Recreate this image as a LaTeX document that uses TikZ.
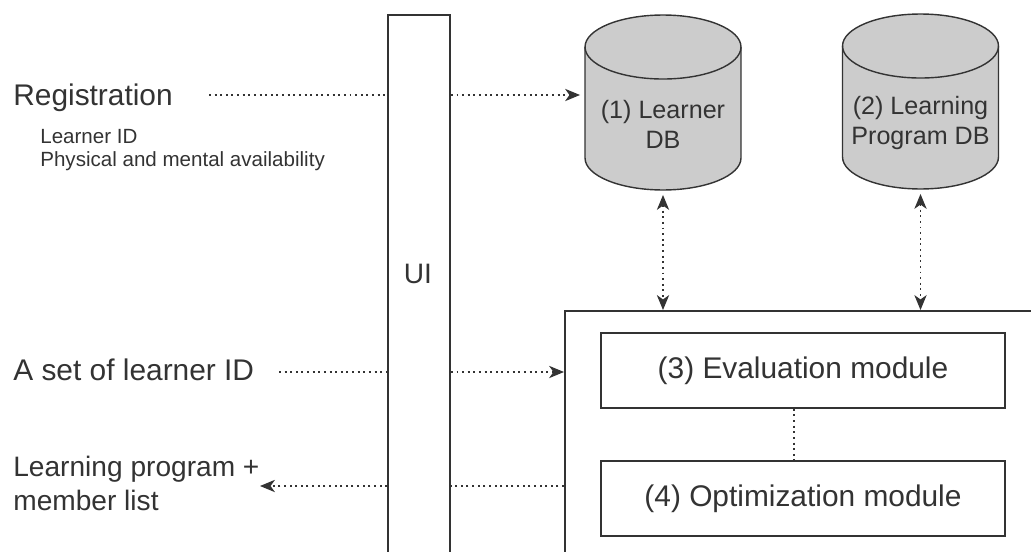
\documentclass[tikz,border=0pt]{standalone}
\usepackage{fontspec}
\setmainfont{Liberation Sans}
\usetikzlibrary{arrows.meta}
\definecolor{ink}{HTML}{333333}
\definecolor{dbfill}{HTML}{CCCCCC}

\begin{document}
\begin{tikzpicture}[x=0.02cm,y=-0.02cm,
  >={Stealth[length=8.5pt,width=7pt,inset=2.5pt]},
  every node/.style={text=ink},
  block/.style={draw=ink,line width=1pt,minimum width=8.08cm,minimum height=1.5cm,font=\fontsize{17}{20}\selectfont},
  db/.style={inner sep=0pt,outer sep=0pt,minimum width=3.12cm,minimum height=3.5cm},
  dbtext/.style={align=center,font=\fontsize{14.3}{17}\selectfont},
  txt/.style={anchor=base west,inner sep=0pt,align=left,font=\fontsize{17}{20}\selectfont},
  flow/.style={draw=ink,line width=0.7pt,dash pattern=on 1.1pt off 2.1pt}]

  \useasboundingbox (0,0) rectangle (1031,551);
  \clip (0,0) rectangle (1031,551);

  % user interface column
  \node[draw=ink,line width=1pt,minimum width=1.24cm,minimum height=12cm,anchor=north] (ui) at (419,14) {};
  \node[font=\fontsize{16}{19}\selectfont] (uitext) at (418,274) {UI};

  % core system
  \node[draw=ink,line width=1.2pt,minimum width=10cm,minimum height=6cm,anchor=north west] (core) at (564,310) {};
  \node[block] (eval) at (803,370.5) {(3) Evaluation module};
  \node[block] (opt) at (803,498.5) {(4) Optimization module};

  % databases
  \node[db] (ldb) at (663,102.5) {};
  \node[db] (pdb) at (920.5,101.5) {};
  \foreach \d in {ldb,pdb} {
    \draw[draw=ink,line width=0.8pt,fill=dbfill] ([yshift=-0.64cm]\d.north west) -- ([yshift=0.64cm]\d.south west)
      arc (180:360:1.56cm and 0.64cm) -- ([yshift=-0.64cm]\d.north east) arc (0:180:1.56cm and 0.64cm) -- cycle;
    \draw[draw=ink,line width=0.8pt] ([yshift=-0.64cm]\d.north west) arc (180:360:1.56cm and 0.64cm);
  }
  \node[dbtext] (ldbtext) at ([yshift=-0.43cm]ldb.center) {(1) Learner\\DB};
  \node[dbtext] (pdbtext) at ([yshift=-0.43cm]pdb.center) {(2) Learning\\Program DB};

  % inputs and outputs
  \node[txt] (reg) at (13,105) {Registration};
  \node[txt,font=\fontsize{11.7}{13}\selectfont] (regitems) at (40,166) {Learner ID\\Physical and mental availability};
  \node[txt] (ids) at (13,380) {A set of learner ID};
  \node[txt,font=\fontsize{16}{18.8}\selectfont] (result) at (13,510) {Learning program +\\member list};

  \coordinate (regsrc) at (209,95);
  \coordinate (idsrc) at (279,372);
  \coordinate (resdst) at (260,486);

  \draw[flow] (regsrc) -- (regsrc -| ui.west);
  \draw[flow,->,shorten >=0.1cm] (regsrc -| ui.east) -- (regsrc -| ldb.west);
  \draw[flow] (idsrc) -- (idsrc -| ui.west);
  \draw[flow,->] (idsrc -| ui.east) -- (idsrc -| core.west);
  \draw[flow,->] (resdst -| ui.west) -- (resdst);
  \draw[flow] (resdst -| core.west) -- (resdst -| ui.east);

  \draw[flow,<->,shorten <=0.1cm] (ldb.south) -- (ldb.south |- core.north);
  \draw[flow,<->,shorten <=0.1cm] (pdb.south) -- (pdb.south |- core.north);
  \draw[flow] ([xshift=-0.18cm]eval.south) -- ([xshift=-0.18cm]opt.north);
\end{tikzpicture}
\end{document}
